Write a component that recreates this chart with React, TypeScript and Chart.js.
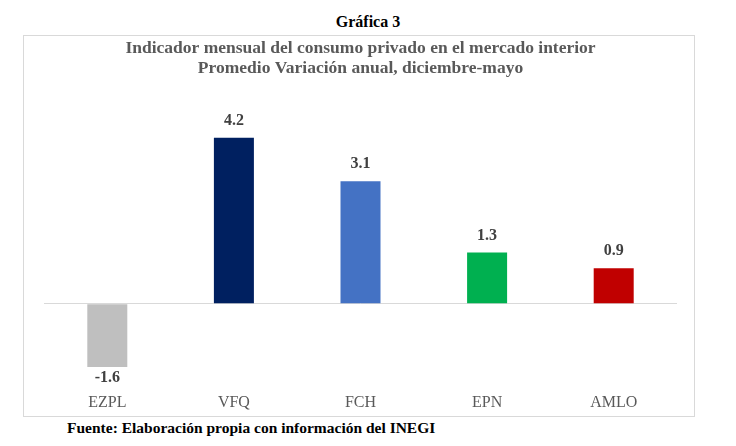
import React, { useEffect, useRef } from "react";
import { Chart, registerables } from "chart.js";

Chart.register(...registerables);

const categories = ["EZPL", "VFQ", "FCH", "EPN", "AMLO"];
const values = [-1.6, 4.2, 3.1, 1.3, 0.9];
const barColors = ["#bfbfbf", "#002060", "#4472c4", "#00b050", "#c00000"];
const titleLines = [
  "Indicador mensual del consumo privado en el mercado interior",
  "Promedio Variación anual, diciembre-mayo",
];
const heading = "Gráfica 3";
const source = "Fuente: Elaboración propia con información del INEGI";

const FONT = "'Liberation Serif', 'DejaVu Serif', serif";

const valueLabels = {
  id: "valueLabels",
  afterDatasetsDraw(chart: any) {
    const ctx = chart.ctx;
    const meta = chart.getDatasetMeta(0);
    ctx.save();
    ctx.font = `bold 16px ${FONT}`;
    ctx.fillStyle = "#404040";
    ctx.textAlign = "center";
    meta.data.forEach((bar: any, i: number) => {
      const v = values[i];
      if (v >= 0) {
        ctx.textBaseline = "bottom";
        ctx.fillText(v.toFixed(1), bar.x, bar.y - 9);
      } else {
        ctx.textBaseline = "top";
        ctx.fillText(v.toFixed(1), bar.x, bar.y + 3);
      }
    });
    ctx.restore();
  },
};

export default function App() {
  const ref = useRef<HTMLCanvasElement>(null);
  useEffect(() => {
    if (!ref.current) return;
    const chart = new Chart(ref.current, {
      type: "bar",
      data: {
        labels: categories,
        datasets: [
          {
            data: values,
            backgroundColor: barColors,
            categoryPercentage: 1,
            barPercentage: 0.316,
          },
        ],
      },
      options: {
        animation: false,
        responsive: false,
        maintainAspectRatio: false,
        layout: { padding: { left: 20, right: 17, top: 0, bottom: 2 } },
        plugins: {
          legend: { display: false },
          tooltip: { enabled: false },
          title: {
            display: true,
            text: titleLines,
            color: "#595959",
            font: { family: FONT, size: 17.5, weight: "bold", lineHeight: 1.15 },
            padding: { top: 2, bottom: 28 },
          },
        },
        scales: {
          x: {
            grid: { display: false },
            border: { display: false },
            ticks: {
              color: "#595959",
              font: { family: FONT, size: 16 },
              padding: 2,
            },
          },
          y: {
            min: -2,
            max: 5,
            border: { display: false },
            ticks: { display: false, stepSize: 1 },
            grid: {
              drawTicks: false,
              color: (c: any) => (c.tick && c.tick.value === 0 ? "#d9d9d9" : "transparent"),
              lineWidth: 1,
            },
          },
        },
      },
      plugins: [valueLabels],
    });
    return () => chart.destroy();
  }, []);

  return (
    <div
      style={{
        position: "fixed",
        left: 0,
        top: 0,
        width: 736,
        height: 446,
        background: "#fff",
        fontFamily: FONT,
      }}
    >
      <div
        style={{
          position: "absolute",
          left: 0,
          width: 736,
          top: 12,
          textAlign: "center",
          fontWeight: "bold",
          fontSize: 16,
          color: "#000",
          lineHeight: "20px",
        }}
      >
        {heading}
      </div>
      <div
        style={{
          position: "absolute",
          left: 23,
          top: 35,
          width: 670,
          height: 380,
          border: "1px solid #d9d9d9",
        }}
      >
        <canvas ref={ref} width={670} height={380} style={{ display: "block" }} />
      </div>
      <div
        style={{
          position: "absolute",
          left: 67,
          top: 418,
          fontWeight: "bold",
          fontSize: 15.5,
          color: "#000",
          lineHeight: "20px",
        }}
      >
        {source}
      </div>
    </div>
  );
}
